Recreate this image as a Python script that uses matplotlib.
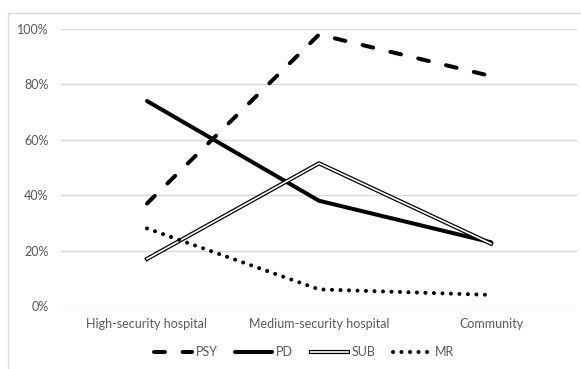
import matplotlib
matplotlib.use("Agg")
import matplotlib.pyplot as plt
from matplotlib.lines import Line2D
from matplotlib.patches import Rectangle
from matplotlib.ticker import PercentFormatter

categories = ["High-security hospital", "Medium-security hospital", "Community"]
psy = [0.37, 0.98, 0.83]
pd_vals = [0.74, 0.38, 0.23]
sub = [0.17, 0.515, 0.225]
mr = [0.28, 0.06, 0.04]
yticks = [0, 0.2, 0.4, 0.6, 0.8, 1.0]

plt.rcParams['font.family'] = ['Lato', 'DejaVu Sans']
W, H = 581, 369
fig = plt.figure(figsize=(W / 100, H / 100), dpi=100)
ax = fig.add_axes([61 / W, 1 - 306 / H, 516 / W, (306 - 29) / H])

# figure border
fig.patches.append(Rectangle((8 / W, -0.1), 1.2, 1 - 13 / H + 0.1, transform=fig.transFigure,
                             fill=False, edgecolor='#d9d9d9', linewidth=1.0, zorder=0))

x = list(range(len(categories)))
lw = 2.9
l_psy, = ax.plot(x, psy, color='black', lw=lw, dashes=(2.7, 4.4), dash_capstyle='round', zorder=3)
l_pd, = ax.plot(x, pd_vals, color='black', lw=lw, solid_capstyle='round', zorder=3)
l_sub1, = ax.plot(x, sub, color='black', lw=3.0, zorder=3)
l_sub2, = ax.plot(x, sub, color='white', lw=1.2, zorder=3)
l_mr, = ax.plot(x, mr, color='black', lw=lw, dashes=(0.01, 2.1), dash_capstyle='round', zorder=3)

ax.set_xlim(-0.5, 2.5)
ax.set_ylim(0, 1.0)
ax.set_yticks(yticks)
ax.yaxis.set_major_formatter(PercentFormatter(1.0, decimals=0))
ax.set_xticks(x)
ax.set_xticklabels(categories)
ax.grid(axis='y', color='#d9d9d9', lw=1.0)
ax.set_axisbelow(True)
for s in ax.spines.values():
    s.set_visible(False)
ax.tick_params(axis='both', length=0, labelsize=9, labelcolor='#595959')
ax.tick_params(axis='y', pad=9)
ax.tick_params(axis='x', pad=9)

leg = fig.legend([l_psy, l_pd, (l_sub1, l_sub2), l_mr], ["PSY", "PD", "SUB", "MR"],
                 loc='center', bbox_to_anchor=(304 / W, 1 - 352 / H),
                 ncol=4, frameon=False, fontsize=9, handlelength=3.0, handletextpad=0.3,
                 columnspacing=1.4, labelcolor='#595959', borderpad=0)

fig.savefig("out.png", dpi=100)
